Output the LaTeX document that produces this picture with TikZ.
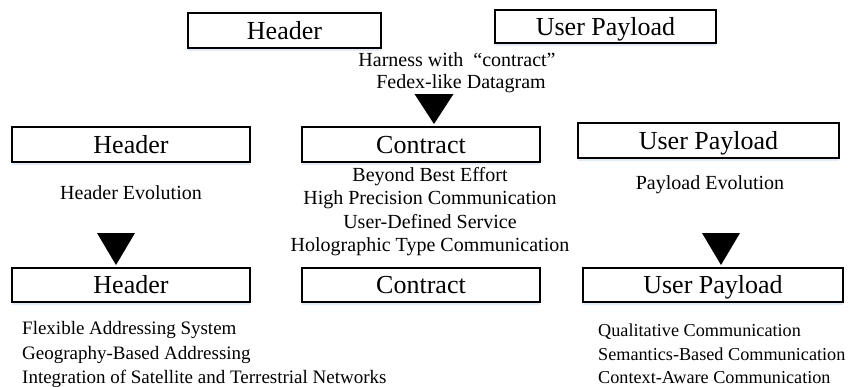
\documentclass[tikz,border=0pt]{standalone}
\usepackage{fontspec}
\setmainfont{Liberation Serif}
\usepackage{tikz}
\usetikzlibrary{arrows,shapes,positioning,shadows}
\usepackage{xcolor}
\definecolor{dfshadow}{RGB}{200,215,240}
\tikzstyle{fieldbox} = [rectangle, minimum height=35pt, inner sep=0pt, text height=17.5pt, text depth=0pt, text centered, draw=black, fill=white, line width=1.2pt, font=\fontsize{26}{30}\selectfont, drop shadow={shadow xshift=0pt, shadow yshift=-3pt, fill=dfshadow, opacity=0.5}]
\tikzstyle{note} = [inner sep=0pt, font=\fontsize{20}{23.5}\selectfont]
\tikzstyle{pointer} = [fill=black]

\begin{document}
\begin{tikzpicture}[x=1pt,y=-1pt]
\useasboundingbox (0,0) rectangle (865,386);

% Original datagram
\node[fieldbox, minimum width=193pt, minimum height=35pt] (hdrA) at (284.5,30.5) {Header};
\node[fieldbox, minimum width=221pt, minimum height=33pt] (payA) at (605.5,26.5) {User Payload};
\node[note] (harness) at (457,60) {Harness with\hspace{0.5em}“contract”};
\node[note] (fedex) at (461,84) {Fedex-like Datagram};
\coordinate (tipA) at (434,124);
\fill[pointer] (tipA) -- ++(-19.5,-30) -- ++(39,0) -- cycle;

% Datagram with contract
\node[fieldbox, minimum width=238pt] (hdrB) at (131,144.5) {Header};
\node[fieldbox, minimum width=238pt] (conB) at (421,144.5) {Contract};
\node[fieldbox, minimum width=261pt] (payB) at (708.5,140.5) {User Payload};
\node[note] (hdrEvo) at (131,193) {Header Evolution};
\node[note] (payEvo) at (710,185) {Payload Evolution};
\node[note, align=center] (conList) at (430,211.5) {Beyond Best Effort\\High Precision Communication\\User-Defined Service\\Holographic Type Communication};
\coordinate (tipB) at (116,265);
\coordinate (tipC) at (721,265);
\fill[pointer] (tipB) -- ++(-19,-32) -- ++(38,0) -- cycle;
\fill[pointer] (tipC) -- ++(-19,-32) -- ++(38,0) -- cycle;

% Evolved datagram
\node[fieldbox, minimum width=238pt, minimum height=34pt] (hdrC) at (131,285) {Header};
\node[fieldbox, minimum width=238pt, minimum height=34pt] (conC) at (421,285) {Contract};
\node[fieldbox, minimum width=260pt, minimum height=34pt] (payC) at (713,285) {User Payload};
\node[note, align=left, anchor=west, font=\fontsize{19}{24.5}\selectfont] (hdrList) at (22,354.5) {Flexible Addressing System\\Geography-Based Addressing\\Integration of Satellite and Terrestrial Networks};
\node[note, align=left, anchor=west, font=\fontsize{18.2}{23.5}\selectfont] (payList) at (598,354) {Qualitative Communication\\Semantics-Based Communication\\Context-Aware Communication};
\end{tikzpicture}
\end{document}
